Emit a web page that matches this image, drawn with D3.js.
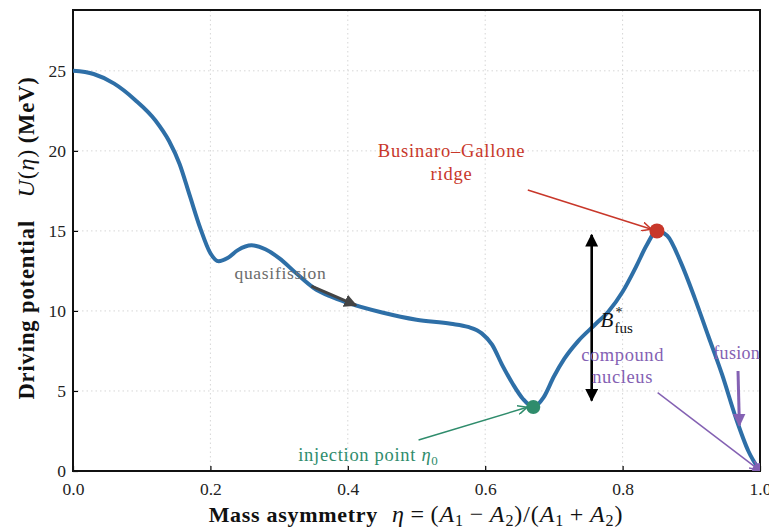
<!DOCTYPE html>
<html>
<head>
<meta charset="utf-8">
<script src="https://cdn.jsdelivr.net/npm/d3@7"></script>
<style>
  html, body { margin: 0; padding: 0; background: #fff; }
  svg { display: block; }
  text { font-family: "Liberation Serif", "DejaVu Serif", serif; }
</style>
</head>
<body>
<svg id="chart" width="769" height="529"></svg>
<script>
// Driving potential U(eta) along the mass-asymmetry coordinate
const eta = [0.00, 0.03, 0.06, 0.09, 0.12, 0.14, 0.155, 0.17, 0.185, 0.20, 0.212, 0.225, 0.24, 0.26,
             0.28, 0.30, 0.325, 0.35, 0.375, 0.40, 0.45, 0.50, 0.55, 0.575, 0.595, 0.61, 0.625, 0.64,
             0.655, 0.67, 0.685, 0.70, 0.715, 0.735, 0.76, 0.78, 0.80, 0.82, 0.835, 0.85, 0.865,
             0.885, 0.905, 0.925, 0.945, 0.965, 0.983, 1.00];
const potential = [25.0, 24.8, 24.2, 23.2, 21.9, 20.6, 19.2, 17.2, 15.2, 13.6, 13.1, 13.3, 13.8, 14.1,
                   13.85, 13.3, 12.35, 11.45, 10.9, 10.5, 9.9, 9.45, 9.2, 9.0, 8.6, 7.9, 6.6, 5.45,
                   4.5, 4.0, 4.6, 5.9, 7.0, 8.1, 9.15, 10.0, 11.2, 12.8, 14.1, 15.0, 14.7,
                   13.0, 10.8, 8.4, 6.0, 3.3, 1.25, 0.0];

const xTicks = [0.0, 0.2, 0.4, 0.6, 0.8, 1.0];
const yTicks = [0, 5, 10, 15, 20, 25];

// Marked states on the potential: [eta, U]
const injection = [0.67, 4.0];
const ridge = [0.85, 15.0];
const compound = [1.0, 0.0];

const W = 769, H = 529;
const margin = { left: 73, top: 10, right: 9, bottom: 58 };
const svg = d3.select("#chart");

const x = d3.scaleLinear().domain([0, 1]).range([margin.left, W - margin.right]);
const y = d3.scaleLinear().domain([0, 28.8]).range([H - margin.bottom, margin.top]);

const RED = "#c8372a", GREEN = "#2f8c6c", PURPLE = "#8461b3", BLUE = "#2e6fa7", GREY = "#444";

// arrowhead markers
const defs = svg.append("defs");
function openHead(id, color) {
  defs.append("marker").attr("id", id).attr("viewBox", "0 0 10 10").attr("refX", 9.5).attr("refY", 5)
    .attr("markerWidth", 10).attr("markerHeight", 10).attr("markerUnits", "userSpaceOnUse")
    .attr("orient", "auto-start-reverse")
    .append("path").attr("d", "M0,0.5 L9.5,5 L0,9.5").attr("fill", "none").attr("stroke", color).attr("stroke-width", 1.5);
}
function filledHead(id, color, size) {
  defs.append("marker").attr("id", id).attr("viewBox", "0 0 10 10").attr("refX", 9).attr("refY", 5)
    .attr("markerWidth", size).attr("markerHeight", size).attr("markerUnits", "userSpaceOnUse")
    .attr("orient", "auto-start-reverse")
    .append("path").attr("d", "M0,0 L10,5 L0,10 Z").attr("fill", color);
}
openHead("hRed", RED);
openHead("hGreen", GREEN);
openHead("hPurple", PURPLE);
filledHead("hGrey", GREY, 13);
filledHead("hPurpleF", PURPLE, 13);
filledHead("hBlack", "#000", 13);

defs.append("clipPath").attr("id", "plotClip").append("rect")
  .attr("x", x(0)).attr("y", y(28.8)).attr("width", x(1) - x(0)).attr("height", y(0) - y(28.8));

// grid
const grid = svg.append("g").attr("stroke", "#d6d6d6").attr("stroke-width", 1).attr("stroke-dasharray", "1.5,3");
grid.selectAll(".gx").data(xTicks.slice(1, -1)).join("line")
  .attr("x1", d => x(d)).attr("x2", d => x(d)).attr("y1", y(0)).attr("y2", y(28.8));
grid.selectAll(".gy").data(yTicks.slice(1)).join("line")
  .attr("x1", x(0)).attr("x2", x(1)).attr("y1", d => y(d)).attr("y2", d => y(d));

// axes with inward ticks
const xAxis = svg.append("g").attr("transform", `translate(0,${y(0)})`)
  .call(d3.axisBottom(x).tickValues(xTicks).tickFormat(d3.format(".1f")).tickSizeInner(-5).tickSizeOuter(0).tickPadding(12));
const yAxis = svg.append("g").attr("transform", `translate(${x(0)},0)`)
  .call(d3.axisLeft(y).tickValues(yTicks).tickFormat(d3.format("d")).tickSizeInner(-5).tickSizeOuter(0).tickPadding(7));
[xAxis, yAxis].forEach(a => {
  a.select(".domain").remove();
  a.selectAll(".tick line").attr("stroke", "#000").attr("stroke-width", 1.2);
  a.selectAll(".tick text").attr("font-size", 17.5).attr("fill", "#222")
    .style("font-family", '"Liberation Serif", serif');
});
xAxis.selectAll(".tick text").attr("dy", "0.71em");

// frame
svg.append("rect").attr("x", x(0)).attr("y", y(28.8)).attr("width", x(1) - x(0)).attr("height", y(0) - y(28.8))
  .attr("fill", "none").attr("stroke", "#111").attr("stroke-width", 2);

const plot = svg.append("g").attr("clip-path", "url(#plotClip)");

// potential curve
const pts = eta.map((e, i) => [e, potential[i]]);
plot.append("path").datum(pts)
  .attr("d", d3.line().x(d => x(d[0])).y(d => y(d[1])).curve(d3.curveMonotoneX))
  .attr("fill", "none").attr("stroke", BLUE).attr("stroke-width", 4).attr("stroke-linejoin", "round");

// state markers
plot.append("circle").attr("cx", x(injection[0])).attr("cy", y(injection[1])).attr("r", 7).attr("fill", GREEN);
plot.append("circle").attr("cx", x(ridge[0])).attr("cy", y(ridge[1])).attr("r", 7.5).attr("fill", RED);
plot.append("circle").attr("cx", x(compound[0])).attr("cy", y(compound[1])).attr("r", 8).attr("fill", PURPLE);

// annotation arrows
function arrow(g, from, to, color, width, marker, both) {
  const l = g.append("line")
    .attr("x1", x(from[0])).attr("y1", y(from[1])).attr("x2", x(to[0])).attr("y2", y(to[1]))
    .attr("stroke", color).attr("stroke-width", width).attr("marker-end", `url(#${marker})`);
  if (both) l.attr("marker-start", `url(#${marker})`);
  return l;
}
arrow(svg, [0.662, 17.56], [0.842, 15.1], RED, 1.5, "hRed");
arrow(svg, [0.347, 11.55], [0.412, 10.35], GREY, 3, "hGrey");
arrow(svg, [0.503, 1.94], [0.661, 3.98], GREEN, 1.5, "hGreen");
arrow(plot, [0.851, 4.9], [0.999, 0.05], PURPLE, 1.5, "hPurple");
arrow(plot, [0.968, 6.25], [0.970, 2.85], PURPLE, 3, "hPurpleF");
arrow(svg, [0.755, 4.4], [0.755, 14.75], "#000", 2.6, "hBlack", true);

// annotation texts
function label(lines, at, color, anchor, size, spacing) {
  const t = svg.append("text").attr("fill", color).attr("font-size", size).attr("text-anchor", anchor)
    .attr("letter-spacing", spacing);
  lines.forEach((s, i) => t.append("tspan").attr("x", x(at[0])).attr("y", y(at[1]) + i * 22.5).text(s));
  return t;
}
label(["Businaro\u2013Gallone", "ridge"], [0.551, 19.6], RED, "middle", 18.5, 0.8);
label(["quasifission"], [0.302, 12.0], "#6b6b6b", "middle", 17.5, 0.7);
label(["compound", "nucleus"], [0.80, 6.9], PURPLE, "middle", 18.5, 0.6);
label(["fusion"], [0.932, 7.0], PURPLE, "start", 18, 0.3);

const inj = svg.append("text").attr("fill", GREEN).attr("font-size", 18.5).attr("text-anchor", "middle")
  .attr("letter-spacing", 0.7).attr("x", x(0.43)).attr("y", y(0.6));
inj.append("tspan").text("injection point ");
inj.append("tspan").attr("font-style", "italic").text("\u03B7");
inj.append("tspan").attr("font-size", 13).attr("dy", 4).text("0");

// barrier label B*_fus
const bx = x(0.768), by = y(9.0);
svg.append("text").attr("x", bx).attr("y", by).attr("font-size", 21).attr("font-style", "italic").attr("fill", "#111").text("B");
svg.append("text").attr("x", bx + 15).attr("y", by - 10).attr("font-size", 14).attr("fill", "#111").text("*");
svg.append("text").attr("x", bx + 14).attr("y", by + 6).attr("font-size", 15).attr("fill", "#111").text("fus");

// axis titles
const xt = svg.append("text").attr("x", 416).attr("y", 522).attr("text-anchor", "middle")
  .attr("font-size", 22).attr("fill", "#111");
xt.append("tspan").attr("font-weight", "bold").attr("letter-spacing", 0.7).text("Mass asymmetry");
const xm = xt.append("tspan").attr("dx", 14).attr("font-size", 24).attr("letter-spacing", 0.9);
xm.append("tspan").attr("font-style", "italic").text("\u03B7");
xm.append("tspan").text("\u2009=\u2009(");
xm.append("tspan").attr("font-style", "italic").text("A");
xm.append("tspan").attr("font-size", 16).attr("dy", 4).text("1");
xm.append("tspan").attr("dy", -4).text("\u2009\u2212\u2009");
xm.append("tspan").attr("font-style", "italic").text("A");
xm.append("tspan").attr("font-size", 16).attr("dy", 4).text("2");
xm.append("tspan").attr("dy", -4).text(")/(");
xm.append("tspan").attr("font-style", "italic").text("A");
xm.append("tspan").attr("font-size", 16).attr("dy", 4).text("1");
xm.append("tspan").attr("dy", -4).text("\u2009+\u2009");
xm.append("tspan").attr("font-style", "italic").text("A");
xm.append("tspan").attr("font-size", 16).attr("dy", 4).text("2");
xm.append("tspan").attr("dy", -4).text(")");

const yt = svg.append("text").attr("transform", `translate(34,238) rotate(-90)`)
  .attr("text-anchor", "middle").attr("font-size", 22.5).attr("fill", "#111");
yt.append("tspan").attr("font-weight", "bold").attr("letter-spacing", 0.9).text("Driving potential");
yt.append("tspan").text("\u2003");
const ym = yt.append("tspan").attr("font-size", 24).attr("letter-spacing", 0.8);
ym.append("tspan").attr("font-style", "italic").text("U");
ym.append("tspan").text("(");
ym.append("tspan").attr("font-style", "italic").text("\u03B7");
ym.append("tspan").text(")");
yt.append("tspan").text(" ");
yt.append("tspan").attr("font-weight", "bold").attr("letter-spacing", 0.9).text("(MeV)");
</script>
</body>
</html>
